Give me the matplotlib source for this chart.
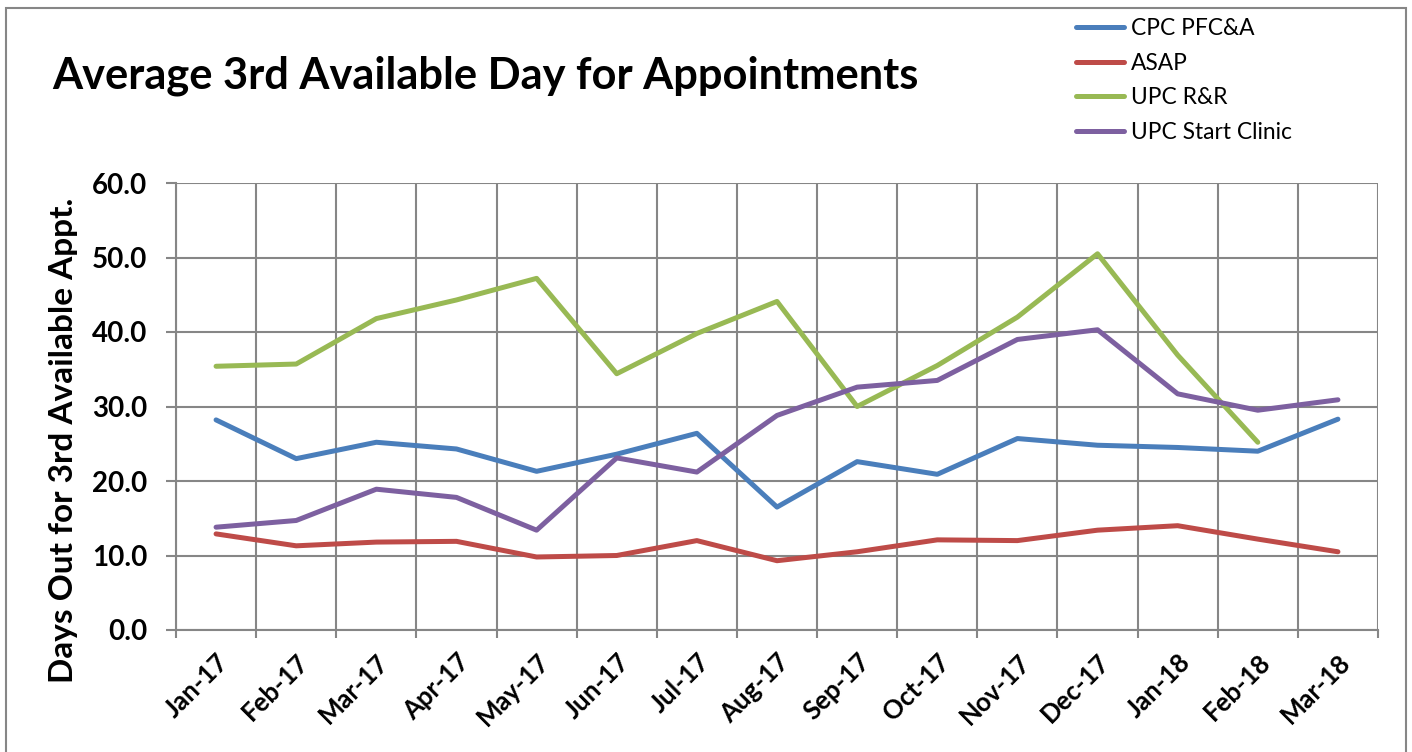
import matplotlib
matplotlib.use("Agg")
import matplotlib.pyplot as plt
import numpy as np
from matplotlib.patches import Rectangle
from matplotlib.lines import Line2D

months = ["Jan-17", "Feb-17", "Mar-17", "Apr-17", "May-17", "Jun-17", "Jul-17",
          "Aug-17", "Sep-17", "Oct-17", "Nov-17", "Dec-17", "Jan-18", "Feb-18", "Mar-18"]
cpc_pfca = [28.2, 23.0, 25.2, 24.3, 21.3, 23.6, 26.4, 16.5, 22.6, 20.9, 25.7, 24.8, 24.5, 24.0, 28.3]
asap = [12.9, 11.3, 11.8, 11.9, 9.8, 10.0, 12.0, 9.3, 10.5, 12.1, 12.0, 13.4, 14.0, 12.2, 10.5]
upc_rr = [35.4, 35.7, 41.8, 44.3, 47.2, 34.4, 39.8, 44.1, 30.0, 35.5, 42.0, 50.5, 36.9, 25.2, np.nan]
upc_start = [13.8, 14.7, 18.9, 17.8, 13.4, 23.1, 21.2, 28.8, 32.6, 33.5, 39.0, 40.3, 31.7, 29.5, 30.9]

series_names = ["CPC PFC&A", "ASAP", "UPC R&R", "UPC Start Clinic"]
series_colors = ["#4A7EBB", "#BE4B48", "#98B954", "#7D60A0"]
yticks = [0, 10, 20, 30, 40, 50, 60]

FONT = "Lato"
GRID = "#868686"
W, H = 1412, 752
fig = plt.figure(figsize=(W / 100, H / 100), dpi=100)

# chart border
fig.patches.append(Rectangle((6 / W, -0.05), (1406 - 6) / W, 1.05 - 8 / H,
                             transform=fig.transFigure, fill=False,
                             edgecolor=GRID, linewidth=1.5))

left, right, top, bottom = 176, 1378, 183, 630
ax = fig.add_axes([left / W, 1 - bottom / H, (right - left) / W, (bottom - top) / H])

x = np.arange(len(months))
for vals, name, col in zip([cpc_pfca, asap, upc_rr, upc_start], series_names, series_colors):
    ax.plot(x, vals, color=col, linewidth=3.6, solid_capstyle="round",
            solid_joinstyle="round", label=name, zorder=3)

ax.set_xlim(-0.5, len(months) - 0.5)
ax.set_ylim(0, 60)
ax.set_yticks(yticks)
ax.set_yticklabels([f"{v:.1f}" for v in yticks], fontfamily=FONT,
                   fontweight="bold", fontsize=20)
ax.set_xticks(x)
ax.set_xticklabels(months, rotation=45, ha="right", rotation_mode="anchor",
                   fontfamily=FONT, fontweight="bold", fontsize=18.5)
ax.set_xticks(np.arange(-0.5, len(months), 1.0), minor=True)
ax.tick_params(axis="x", which="major", length=0, pad=14)
ax.tick_params(axis="x", which="minor", length=5.8, color=GRID, width=1.5)
ax.tick_params(axis="y", length=7.2, color=GRID, width=1.5, pad=13.5)

ax.grid(True, which="major", axis="y", color=GRID, linewidth=1.5)
ax.grid(True, which="minor", axis="x", color=GRID, linewidth=1.5)
for s in ["top", "right"]:
    ax.spines[s].set_visible(False)
for s in ["left", "bottom"]:
    ax.spines[s].set_color(GRID)
    ax.spines[s].set_linewidth(1.5)
ax.set_axisbelow(True)

ax.set_ylabel("Days Out for 3rd Available Appt.", fontfamily=FONT,
              fontweight="bold", fontsize=24)
ax.yaxis.set_label_coords((78 - left) / (right - left), (bottom - 440) / (bottom - top))

fig.text(52 / W, 1 - 88 / H, "Average 3rd Available Day for Appointments",
         fontfamily=FONT, fontweight="bold", fontsize=31.2, ha="left", va="baseline")

handles = [Line2D([0], [0], color=c, linewidth=3.6, solid_capstyle="round")
           for c in series_colors]
fig.legend(handles, series_names, loc="upper left",
           bbox_to_anchor=(1076 / W, 1 - 18 / H), frameon=False,
           prop={"family": FONT, "size": 16.4}, handlelength=2.1,
           handletextpad=0.3, labelspacing=0.6, borderpad=0, borderaxespad=0)

fig.savefig("out.png", dpi=100)
